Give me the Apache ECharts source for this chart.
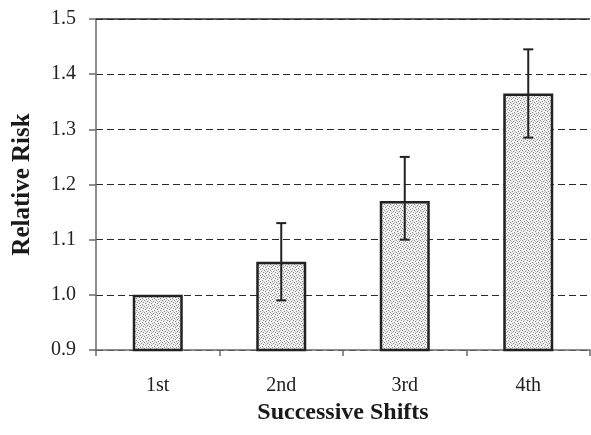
<!DOCTYPE html>
<html>
<head>
<meta charset="utf-8">
<script src="https://cdn.jsdelivr.net/npm/echarts@6/dist/echarts.min.js"></script>
<style>
  html, body { margin: 0; padding: 0; background: #fff; }
  #chart { width: 591px; height: 435px; }
</style>
</head>
<body>
<div id="chart"></div>
<script>
// Relative risk by successive shift, with 95% confidence intervals
const shifts = ['1st', '2nd', '3rd', '4th'];
const relativeRisk = [1.0, 1.06, 1.17, 1.365];
const ciLower = [null, 0.99, 1.10, 1.285];
const ciUpper = [null, 1.13, 1.25, 1.445];
const yTicks = [0.9, 1.0, 1.1, 1.2, 1.3, 1.4, 1.5];

// Stippled fill for the bars
function stipple() {
  const c = document.createElement('canvas');
  c.width = 6; c.height = 6;
  const g = c.getContext('2d');
  g.fillStyle = '#f1f1f1';
  g.fillRect(0, 0, 6, 6);
  g.fillStyle = '#8a8a8a';
  [[0, 0], [3, 1], [1, 3], [4, 4], [2, 5], [5, 2]].forEach(([x, y]) => g.fillRect(x, y, 1, 1));
  g.fillStyle = '#c4c4c4';
  [[2, 2], [5, 5], [1, 1], [4, 0]].forEach(([x, y]) => g.fillRect(x, y, 1, 1));
  return c;
}

const errorData = shifts
  .map((s, i) => [i, ciLower[i], ciUpper[i]])
  .filter(d => d[1] !== null);

const chart = echarts.init(document.getElementById('chart'));
chart.setOption({
  animation: false,
  textStyle: { fontFamily: 'Liberation Serif' },
  grid: { left: 96, right: 1, top: 19, bottom: 85 },
  xAxis: {
    type: 'category',
    data: shifts,
    name: 'Successive Shifts',
    nameLocation: 'middle',
    nameGap: 49,
    nameTextStyle: { fontSize: 24, fontWeight: 'bold', color: '#1a1a1a', fontFamily: 'Liberation Serif' },
    axisLine: { lineStyle: { color: '#6a6a6a', width: 1.5 } },
    axisTick: { show: true, length: 6, lineStyle: { color: '#6a6a6a', width: 1.5 } },
    axisLabel: { fontSize: 20, color: '#222', margin: 26 }
  },
  yAxis: {
    type: 'value',
    min: yTicks[0],
    max: yTicks[yTicks.length - 1],
    interval: 0.1,
    name: 'Relative Risk',
    nameLocation: 'middle',
    nameGap: 61,
    nameTextStyle: { fontSize: 25, fontWeight: 'bold', color: '#1a1a1a', fontFamily: 'Liberation Serif' },
    axisLine: { show: true, lineStyle: { color: '#6a6a6a', width: 1.5 } },
    axisTick: { show: true, length: 7, lineStyle: { color: '#6a6a6a', width: 1.5 } },
    axisLabel: { fontSize: 20, color: '#222', margin: 20, formatter: v => v.toFixed(1) },
    splitLine: { show: true, lineStyle: { color: '#2a2a2a', type: [7, 4], width: 1.2 } }
  },
  series: [
    {
      type: 'bar',
      data: relativeRisk,
      barWidth: 50,
      itemStyle: {
        color: { image: stipple(), repeat: 'repeat' },
        borderColor: '#222',
        borderWidth: 2.5
      },
      markLine: {
        silent: true,
        symbol: 'none',
        label: { show: false },
        lineStyle: { color: '#2a2a2a', type: 'solid', width: 1.5 },
        data: [{ yAxis: yTicks[yTicks.length - 1] }]
      },
      z: 2
    },
    {
      type: 'custom',
      data: errorData,
      z: 5,
      renderItem: function (params, api) {
        const x = api.value(0);
        const lo = api.coord([x, api.value(1)]);
        const hi = api.coord([x, api.value(2)]);
        const half = 5;
        const style = { stroke: '#222', lineWidth: 2 };
        return {
          type: 'group',
          children: [
            { type: 'line', shape: { x1: lo[0], y1: lo[1], x2: hi[0], y2: hi[1] }, style },
            { type: 'line', shape: { x1: hi[0] - half, y1: hi[1], x2: hi[0] + half, y2: hi[1] }, style },
            { type: 'line', shape: { x1: lo[0] - half, y1: lo[1], x2: lo[0] + half, y2: lo[1] }, style }
          ]
        };
      }
    }
  ]
});
</script>
</body>
</html>
